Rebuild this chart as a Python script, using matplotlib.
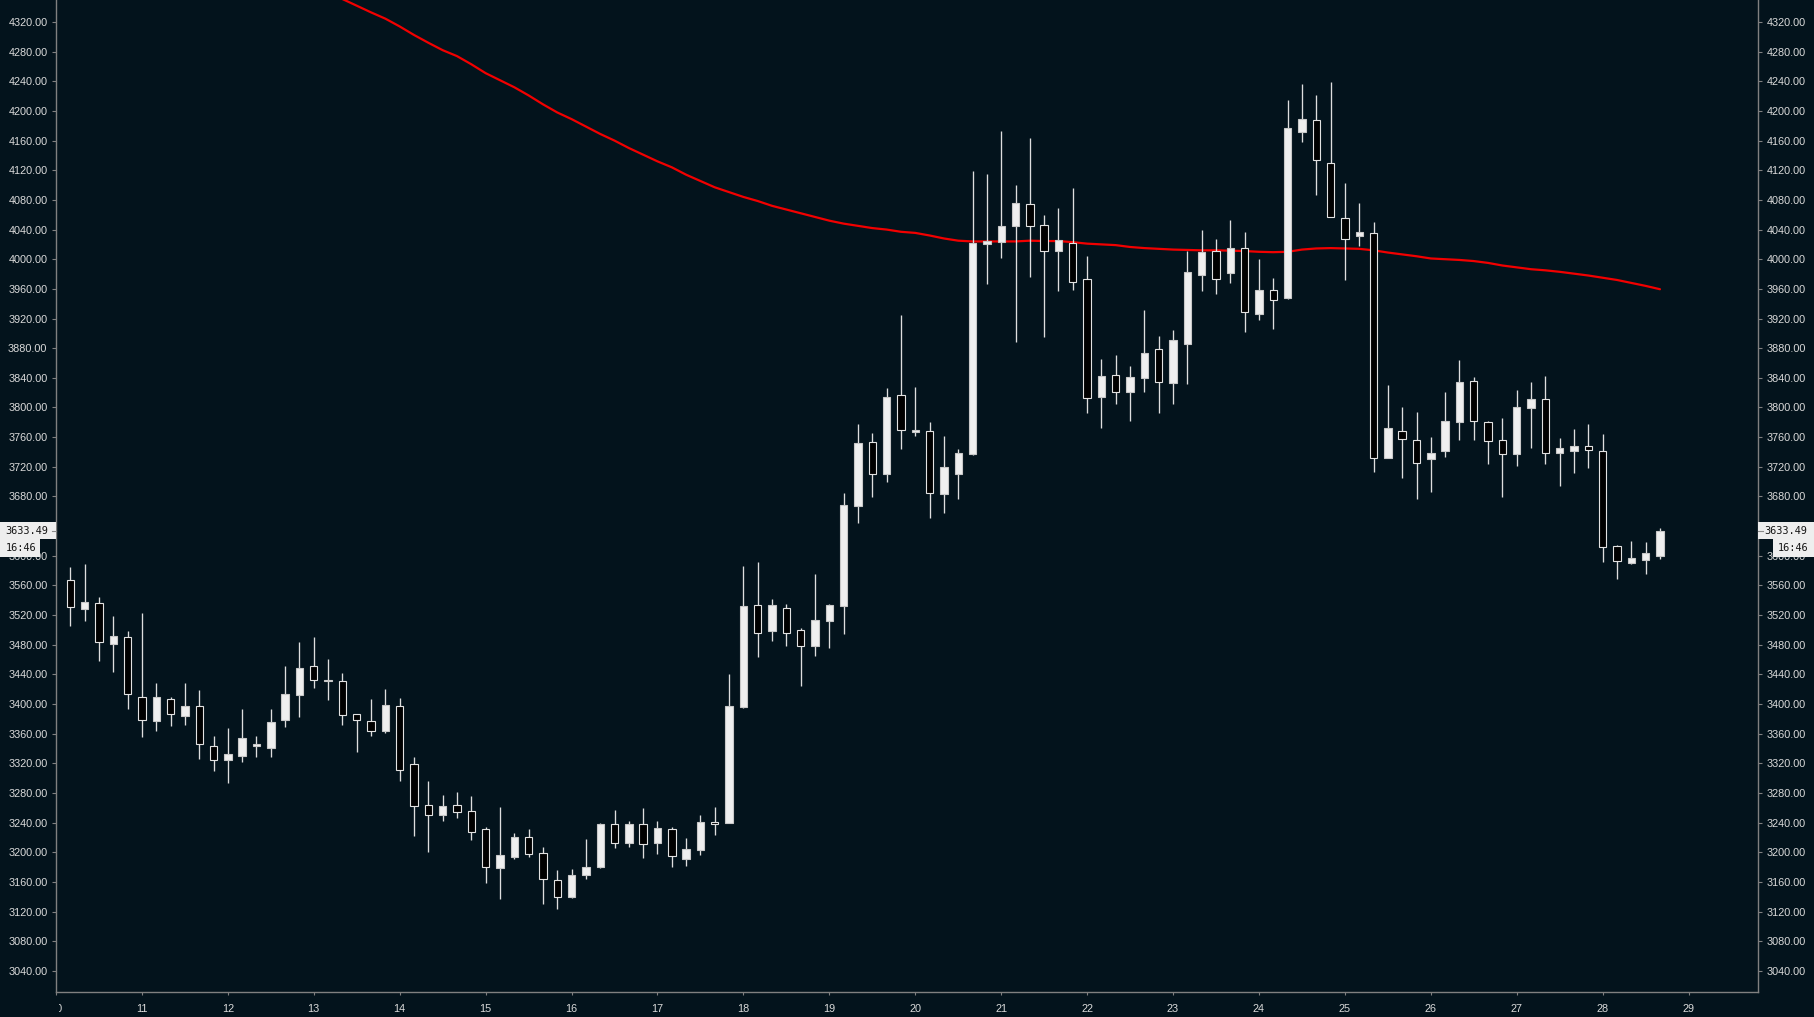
import numpy as np
import pandas as pd
import matplotlib
matplotlib.use('Agg')
import matplotlib.pyplot as plt
from matplotlib.patches import Rectangle
from matplotlib.lines import Line2D
from matplotlib.transforms import Bbox, TransformedBbox

# 4h candles, first one opens on the 10th at 04:00
times = pd.date_range('2021-01-10 04:00', periods=112, freq='4h')

opens = [3566.7, 3528.5, 3535.7, 3481.3, 3490.3, 3408.9, 3377.4, 3406.2, 3384.1, 3396.7,
         3342.8, 3323.9, 3330.2, 3343.7, 3341.0, 3378.7, 3412.5, 3450.7, 3431.0, 3430.9,
         3385.9, 3376.5, 3363.4, 3396.7, 3318.5, 3263.2, 3250.6, 3263.2, 3255.5, 3231.2,
         3179.1, 3193.9, 3220.4, 3198.9, 3162.1, 3140.0, 3168.8, 3180.5, 3237.6, 3212.9,
         3237.6, 3212.9, 3230.8, 3191.3, 3203.4, 3240.3, 3239.9, 3396.3, 3533.5, 3498.9,
         3529.0, 3499.2, 3478.7, 3511.3, 3532.8, 3667.7, 3753.2, 3710.2, 3816.7, 3767.5,
         3767.9, 3683.9, 3710.7, 3737.5, 4019.9, 4023.5, 4045.2, 4074.5, 4046.1, 4011.5,
         4021.4, 3972.8, 3813.6, 3843.3, 3821.3, 3840.2, 3878.4, 3833.4, 3886.0, 3978.2,
         4010.6, 3981.8, 4015.1, 3926.5, 3958.5, 3947.6, 4172.0, 4187.3, 4129.7, 4055.1,
         4030.8, 4034.8, 3732.2, 3768.2, 3756.0, 3730.9, 3741.6, 3780.8, 3835.2, 3779.9,
         3756.0, 3737.7, 3799.7, 3811.0, 3739.0, 3741.7, 3747.5, 3740.8, 3612.6, 3590.6,
         3594.6, 3600.0]
highs = [3584.7, 3589.2, 3544.2, 3518.6, 3498.4, 3522.2, 3428.2, 3409.3, 3428.2, 3418.8,
         3356.7, 3367.1, 3393.1, 3356.7, 3393.1, 3451.6, 3483.1, 3490.3, 3460.6, 3441.7,
         3386.5, 3406.6, 3420.1, 3408.0, 3328.4, 3296.0, 3277.1, 3281.2, 3275.8, 3233.5,
         3260.5, 3225.4, 3230.8, 3207.0, 3175.5, 3176.9, 3217.8, 3238.9, 3256.9, 3242.1,
         3259.6, 3242.1, 3234.4, 3219.2, 3249.7, 3261.0, 3440.4, 3586.1, 3591.5, 3541.6,
         3534.9, 3502.4, 3575.3, 3535.4, 3684.0, 3777.9, 3765.3, 3826.2, 3924.9, 3827.8,
         3781.0, 3761.6, 3743.3, 4119.0, 4114.8, 4173.1, 4100.0, 4163.5, 4059.6, 4069.1,
         4096.1, 4004.3, 3865.4, 3870.8, 3855.9, 3931.5, 3896.4, 3904.5, 4011.1, 4039.4,
         4027.7, 4053.3, 4036.7, 4000.3, 3974.6, 4214.7, 4236.3, 4221.5, 4239.0, 4102.8,
         4075.8, 4049.7, 3830.2, 3800.6, 3793.8, 3760.1, 3820.8, 3864.0, 3841.0, 3782.1,
         3785.8, 3823.5, 3834.3, 3842.4, 3758.8, 3770.9, 3777.7, 3764.2, 3614.4, 3619.8,
         3618.5, 3636.9]
lows = [3505.6, 3512.3, 3457.9, 3443.5, 3393.1, 3355.8, 3363.9, 3370.7, 3372.0, 3325.7,
        3309.9, 3293.8, 3322.1, 3327.9, 3328.8, 3369.3, 3382.8, 3421.5, 3405.3, 3371.5,
        3335.6, 3356.7, 3361.2, 3296.0, 3222.2, 3200.7, 3242.5, 3246.5, 3216.8, 3158.8,
        3136.3, 3190.3, 3193.9, 3130.5, 3123.8, 3138.7, 3164.3, 3179.1, 3206.1, 3207.5,
        3192.6, 3197.1, 3180.5, 3181.4, 3196.2, 3223.2, 3239.9, 3394.5, 3463.8, 3485.4,
        3478.6, 3424.7, 3464.1, 3475.1, 3495.0, 3644.6, 3679.8, 3699.7, 3744.3, 3761.6,
        3651.4, 3657.7, 3677.1, 3736.4, 3966.8, 4002.0, 3888.7, 3976.4, 3895.5, 3957.6,
        3958.5, 3793.0, 3771.8, 3805.1, 3782.2, 3821.3, 3793.0, 3805.1, 3832.1, 3957.6,
        3953.5, 3967.9, 3902.2, 3918.0, 3905.8, 3946.7, 4158.5, 4087.0, 4056.4, 3971.9,
        4017.8, 3713.3, 3731.5, 3705.2, 3676.0, 3686.3, 3733.5, 3756.0, 3756.0, 3723.7,
        3679.6, 3721.5, 3745.7, 3724.2, 3694.5, 3712.0, 3718.8, 3592.0, 3568.1, 3588.8,
        3575.8, 3595.5]
closes = [3530.3, 3537.0, 3483.1, 3491.6, 3412.9, 3377.8, 3408.9, 3385.9, 3396.7, 3345.5,
          3323.9, 3332.0, 3354.0, 3345.5, 3375.6, 3413.4, 3448.0, 3432.7, 3432.5, 3385.5,
          3377.8, 3363.9, 3398.1, 3311.3, 3262.7, 3250.6, 3261.8, 3254.6, 3227.6, 3180.4,
          3195.7, 3220.4, 3198.0, 3163.3, 3140.0, 3169.2, 3179.6, 3238.0, 3212.9, 3237.6,
          3210.6, 3232.6, 3194.4, 3203.9, 3240.3, 3237.6, 3397.2, 3532.2, 3496.2, 3533.5,
          3496.2, 3478.7, 3513.4, 3533.3, 3668.2, 3752.2, 3710.7, 3814.1, 3770.0, 3769.0,
          3685.0, 3719.6, 3738.5, 4022.0, 4024.1, 4045.0, 4076.0, 4044.8, 4011.5, 4025.9,
          3968.8, 3812.3, 3842.4, 3821.3, 3841.1, 3873.5, 3834.8, 3891.0, 3982.7, 4009.7,
          3972.8, 4015.1, 3928.3, 3958.5, 3944.5, 4177.0, 4189.1, 4134.2, 4056.4, 4027.7,
          4036.2, 3732.2, 3771.8, 3756.9, 3725.5, 3738.0, 3781.7, 3834.3, 3782.1, 3755.1,
          3737.8, 3800.6, 3811.0, 3739.0, 3744.8, 3747.5, 3742.1, 3612.2, 3592.4, 3596.5,
          3603.2, 3633.49]

# moving average, visible from candle 18 on
ma_start = 18
ma = [4359, 4351, 4342, 4333, 4324.5, 4314, 4302.5, 4292, 4282, 4274,
      4263, 4251, 4241.5, 4232, 4221, 4209, 4198, 4189, 4179, 4169,
      4160, 4150, 4141, 4132, 4124, 4114, 4105.5, 4097, 4090.5, 4084,
      4078.5, 4072, 4067, 4062, 4057, 4052, 4048, 4045, 4042, 4040,
      4037, 4035.5, 4032, 4028, 4025, 4024, 4024, 4024, 4024, 4025,
      4024.5, 4024.5, 4023, 4021, 4020, 4019, 4016.5, 4015, 4014, 4013,
      4012.5, 4012, 4012, 4011.5, 4011, 4010, 4009.5, 4010, 4013, 4014.5,
      4015, 4014.5, 4014, 4012, 4009, 4006.5, 4004, 4001, 4000, 3999,
      3997.5, 3995, 3991.5, 3989, 3986.5, 3985, 3983, 3980.5, 3978, 3975,
      3972, 3968, 3964, 3959.5]

countdown = '16:46'
day_ticks = list(range(10, 30))
price_ticks = list(range(3040, 4321, 40))

BG = '#03131c'
TXT = '#dadada'
AX = '#808080'

W, H = 1814, 1017
fig = plt.figure(figsize=(W / 100, H / 100), dpi=100, facecolor=BG)
plt.rcParams['font.family'] = ['Liberation Sans', 'DejaVu Sans']

ax_l, ax_r, ax_b = 56, 1758.3, 992.3
ax = fig.add_axes([ax_l / W, (H - ax_b) / H, (ax_r - ax_l) / W, ax_b / H])
ax.set_facecolor(BG)

t = np.array(times.day + times.hour / 24.0)
o = np.array(opens)
c = np.array(closes)
up = c >= o

ax.plot(t[ma_start:], ma, color='#f20000', lw=1.6, zorder=1.5, solid_capstyle='round')
ax.vlines(t, lows, highs, color='#dedede', lw=0.95, zorder=2)
ax.bar(t, np.abs(c - o), bottom=np.minimum(o, c), width=0.086,
       color=np.where(up, '#efefef', '#000000'),
       edgecolor=np.where(up, '#c8c8c8', '#e2e2e2'), linewidth=0.8, zorder=3)

ax.set_xlim(10.016, 29.811)
ax.set_ylim(3011.0, 4349.7)
ax.set_xticks(day_ticks)
ax.set_xticklabels([str(d) for d in day_ticks])
ax.set_yticks(price_ticks)
ax.yaxis.set_major_formatter(matplotlib.ticker.FormatStrFormatter('%.2f'))

for side in ['left', 'right', 'bottom']:
    ax.spines[side].set_color(AX)
    ax.spines[side].set_linewidth(1.0)
ax.spines['top'].set_visible(False)

ax.tick_params(axis='y', which='both', left=True, right=True, labelleft=True, labelright=True,
               length=3.2, width=0.8, color=AX, labelcolor=TXT, labelsize=7.8, pad=3)
ax.tick_params(axis='x', length=2.5, width=0.8, color=AX, labelcolor=TXT, labelsize=7.8, pad=6)

# the "10" label is cut by the left spine
clip = TransformedBbox(Bbox([[(ax_l + 2.5) / W, 0], [1, 1]]), fig.transFigure)
for tk in ax.xaxis.get_major_ticks():
    tk.label1.set_clip_on(True)
    tk.label1.set_clip_box(clip)

# last price and countdown boxes on both price scales
y_last = ax.transData.transform((t[-1], closes[-1]))[1]
bh, bh2 = 17.0, 17.7
boxes = [
    (0, 56, y_last - bh / 2, bh, 27, f'{closes[-1]:.2f}'),
    (0, 40, y_last - bh / 2 - bh2, bh2, 21, countdown),
    (ax_r, W - ax_r + 2, y_last - bh / 2, bh, 1786, f'{closes[-1]:.2f}'),
    (1773, W - 1773 + 2, y_last - bh / 2 - bh2, bh2, 1793.5, countdown),
]
for x0, w, y0, h, xt, label in boxes:
    fig.patches.append(Rectangle((x0 / W, y0 / H), w / W, h / H, transform=fig.transFigure,
                                 facecolor='#eeeeee', edgecolor='none', zorder=5))
    fig.text(xt / W, (y0 + h / 2) / H, label, ha='center', va='center', fontsize=7.4,
             family='DejaVu Sans Mono', color='#151515', zorder=6)

for xa, xb in [(52, 56), (ax_r, ax_r + 4.5)]:
    fig.lines.append(Line2D([xa / W, xb / W], [y_last / H, y_last / H], transform=fig.transFigure,
                            color='#8a8a8a', lw=0.8, zorder=7))

fig.savefig('out.png', dpi=100, facecolor=BG)
